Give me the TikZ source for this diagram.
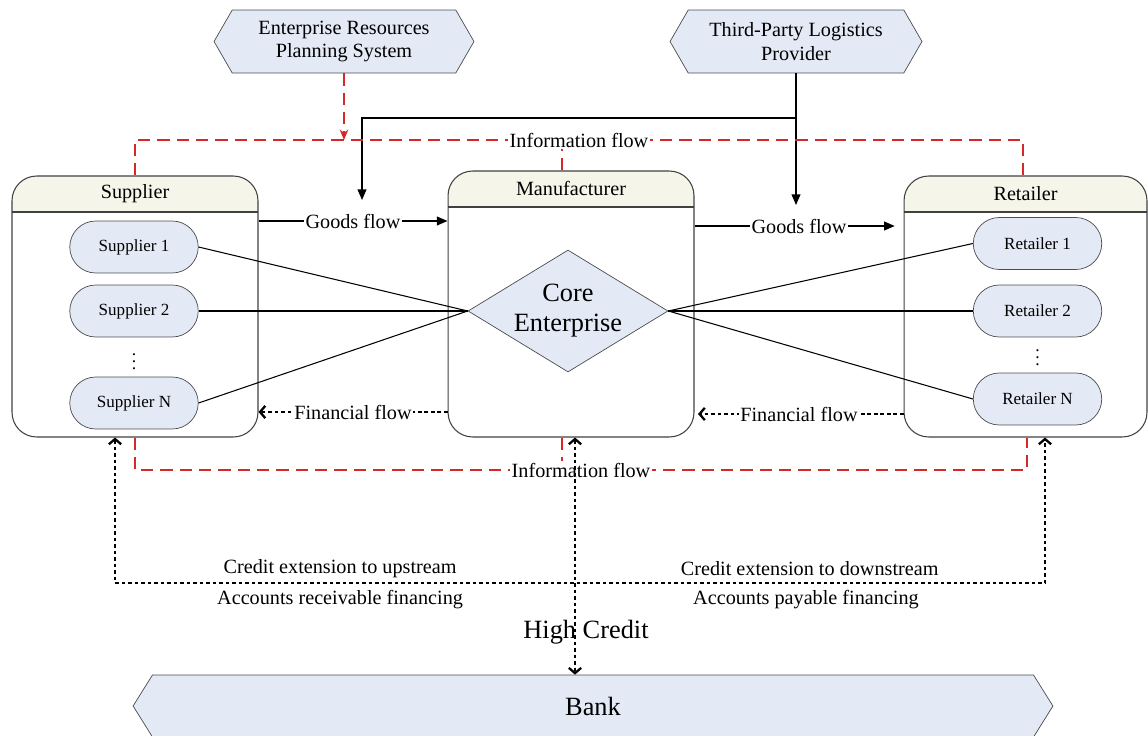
\documentclass[tikz,border=0pt]{standalone}
\usepackage{fontspec}
\setmainfont{Liberation Serif}
\usetikzlibrary{shapes.geometric, shapes.misc, shapes.symbols, arrows.meta}
\definecolor{boxblue}{RGB}{227,234,246}
\definecolor{headbeige}{RGB}{245,245,234}
\definecolor{infored}{RGB}{214,40,40}

\begin{document}
\begin{tikzpicture}[x=0.02cm, y=-0.02cm]
	\tikzstyle{every node} = [font=\fontsize{11.5}{13.6}\selectfont, inner sep=1pt]
	\tikzstyle{hexbox} = [draw=black!70, fill=boxblue, shape=signal, signal to=west and east, signal pointer angle=120, align=center]
	\tikzstyle{member} = [draw=black!70, fill=boxblue, rounded rectangle, minimum width=2.64cm, minimum height=1.04cm, font=\fontsize{9.7}{11}\selectfont]
	\tikzstyle{group} = [draw=black!75, line width=0.6pt, rounded corners=14pt, minimum width=4.92cm, path picture={
		\fill[headbeige, sharp corners] (path picture bounding box.north west) rectangle ([yshift=-0.72cm]path picture bounding box.north east);
		\draw[black!75, sharp corners] ([yshift=-0.72cm]path picture bounding box.north west) -- ([yshift=-0.72cm]path picture bounding box.north east);}]
	\tikzstyle{flowlabel} = [fill=white]
	\tikzstyle{info} = [draw=infored, line width=0.8pt, dash pattern=on 7pt off 4pt]
	\tikzstyle{goods} = [-{Triangle[length=6pt, width=5pt]}, line width=0.7pt]
	\tikzstyle{money} = [-{Straight Barb[length=3pt, width=7pt]}, line width=1.3pt, dash pattern=on 2pt off 1.7pt]
	\tikzstyle{credit} = [money, {Straight Barb[length=3pt, width=7pt]}-{Straight Barb[length=3pt, width=7pt]}]
	\useasboundingbox (0,0) rectangle (1148,736);

	% levels of the flows
	\coordinate (infotop) at (0,140);
	\coordinate (infobot) at (0,470);
	\coordinate (split) at (0,118);
	\coordinate (goodsl) at (0,221);
	\coordinate (goodsr) at (0,226);
	\coordinate (goodsin) at (362,200);
	\coordinate (goodsout) at (0,205);
	\coordinate (cashl) at (0,412);
	\coordinate (cashr) at (0,414);
	\coordinate (creditline) at (0,583);

	% outside partners
	\node[hexbox, minimum width=5.2cm, minimum height=1.26cm] (erp) at (344,41.5) {Enterprise Resources\\Planning System};
	\node[hexbox, minimum width=5.04cm, minimum height=1.26cm] (tpl) at (796,41.5) {Third-Party Logistics\\Provider};
	\node[hexbox, signal pointer angle=116, minimum width=18.4cm, minimum height=1.24cm, font=\fontsize{15}{17}\selectfont] (bank) at (593,706) {Bank};

	% the three stages
	\node[group, minimum height=5.22cm] (supplier) at (135,306.5) {};
	\node[group, minimum height=5.32cm] (maker) at (571,304) {};
	\node[group, minimum width=4.86cm, minimum height=5.22cm] (retailer) at (1025.5,306.5) {};
	\node (suptitle) at ([yshift=-0.36cm]supplier.north) {Supplier};
	\node (makertitle) at ([yshift=-0.36cm]maker.north) {Manufacturer};
	\node (rettitle) at ([yshift=-0.36cm]retailer.north) {Retailer};

	\node[member] (s1) at (134,247) {Supplier 1};
	\node[member] (s2) at (134,311) {Supplier 2};
	\node[font=\fontsize{10}{10}\selectfont, inner sep=0pt] (sdots) at (134,356) {$\vdots$};
	\node[member] (sn) at (134,403) {Supplier N};
	\node[member] (r1) at (1037.5,243.5) {Retailer 1};
	\node[member] (r2) at (1037.5,311) {Retailer 2};
	\node[font=\fontsize{10}{10}\selectfont, inner sep=0pt] (rdots) at (1037.5,352) {$\vdots$};
	\node[member] (rn) at (1037.5,399) {Retailer N};
	\node[draw=black!70, fill=boxblue, diamond, aspect=1.64, minimum width=4cm, minimum height=2.44cm, inner sep=0pt, align=center, font=\fontsize{15}{17}\selectfont] (core) at (568,311) {Core\\Enterprise};

	\draw[line width=0.6pt] (s1.east) -- (core.west);
	\draw[line width=0.6pt] (s2.east) -- (core.west);
	\draw[line width=0.6pt] (sn.east) -- (core.west);
	\draw[line width=0.6pt] (core.east) -- (r1.west);
	\draw[line width=0.6pt] (core.east) -- (r2.west);
	\draw[line width=0.6pt] (core.east) -- (rn.west);

	% goods flow
	\draw[goods] (supplier.east |- goodsl) -- node[flowlabel]{Goods flow} (maker.west |- goodsl);
	\draw[goods, shorten >=5pt] (maker.east |- goodsr) -- node[flowlabel]{Goods flow} (retailer.west |- goodsr);
	\draw[line width=0.7pt] (tpl.south) -- (tpl.south |- split);
	\draw[goods] (tpl.south |- split) -| (goodsin);
	\draw[goods] (tpl.south) -- (tpl.south |- goodsout);

	% financial flow
	\draw[money] (maker.west |- cashl) -- node[flowlabel]{Financial flow} (supplier.east |- cashl);
	\draw[money, shorten >=2pt] (retailer.west |- cashr) -- node[flowlabel]{Financial flow} (maker.east |- cashr);

	% information flow
	\draw[info, -{Stealth[length=6pt, width=5pt]}] (erp.south) -- (erp.south |- infotop);
	\draw[info] ([xshift=-0.18cm]maker.north) -- ([xshift=-0.18cm]maker.north |- infotop);
	\draw[info] (supplier.north) -- (supplier.north |- infotop) -- node[flowlabel]{Information flow} ([xshift=-0.05cm]retailer.north |- infotop) -- ([xshift=-0.05cm]retailer.north);
	\draw[info] ([xshift=-0.18cm]maker.south) -- ([xshift=-0.18cm]maker.south |- infobot);
	\draw[info] (supplier.south) -- (supplier.south |- infobot) -- node[flowlabel]{Information flow} ([xshift=0.03cm]retailer.south |- infobot) -- ([xshift=0.03cm]retailer.south);

	% credit
	\draw[credit] ([xshift=-0.4cm]supplier.south) -- ([xshift=-0.4cm]supplier.south |- creditline)
		-- node[pos=.242, yshift=0.28cm]{Credit extension to upstream} node[pos=.242, yshift=-0.34cm]{Accounts receivable financing}
		node[pos=.747, yshift=0.28cm]{Credit extension to downstream} node[pos=.743, yshift=-0.34cm]{Accounts payable financing}
		([xshift=0.39cm]retailer.south |- creditline) -- ([xshift=0.39cm]retailer.south);
	\node[font=\fontsize{15}{17}\selectfont] (highcredit) at (586,632) {High Credit};
	\draw[credit] ([xshift=0.08cm]maker.south) -- ([xshift=0.08cm]maker.south |- bank.north);
\end{tikzpicture}
\end{document}
